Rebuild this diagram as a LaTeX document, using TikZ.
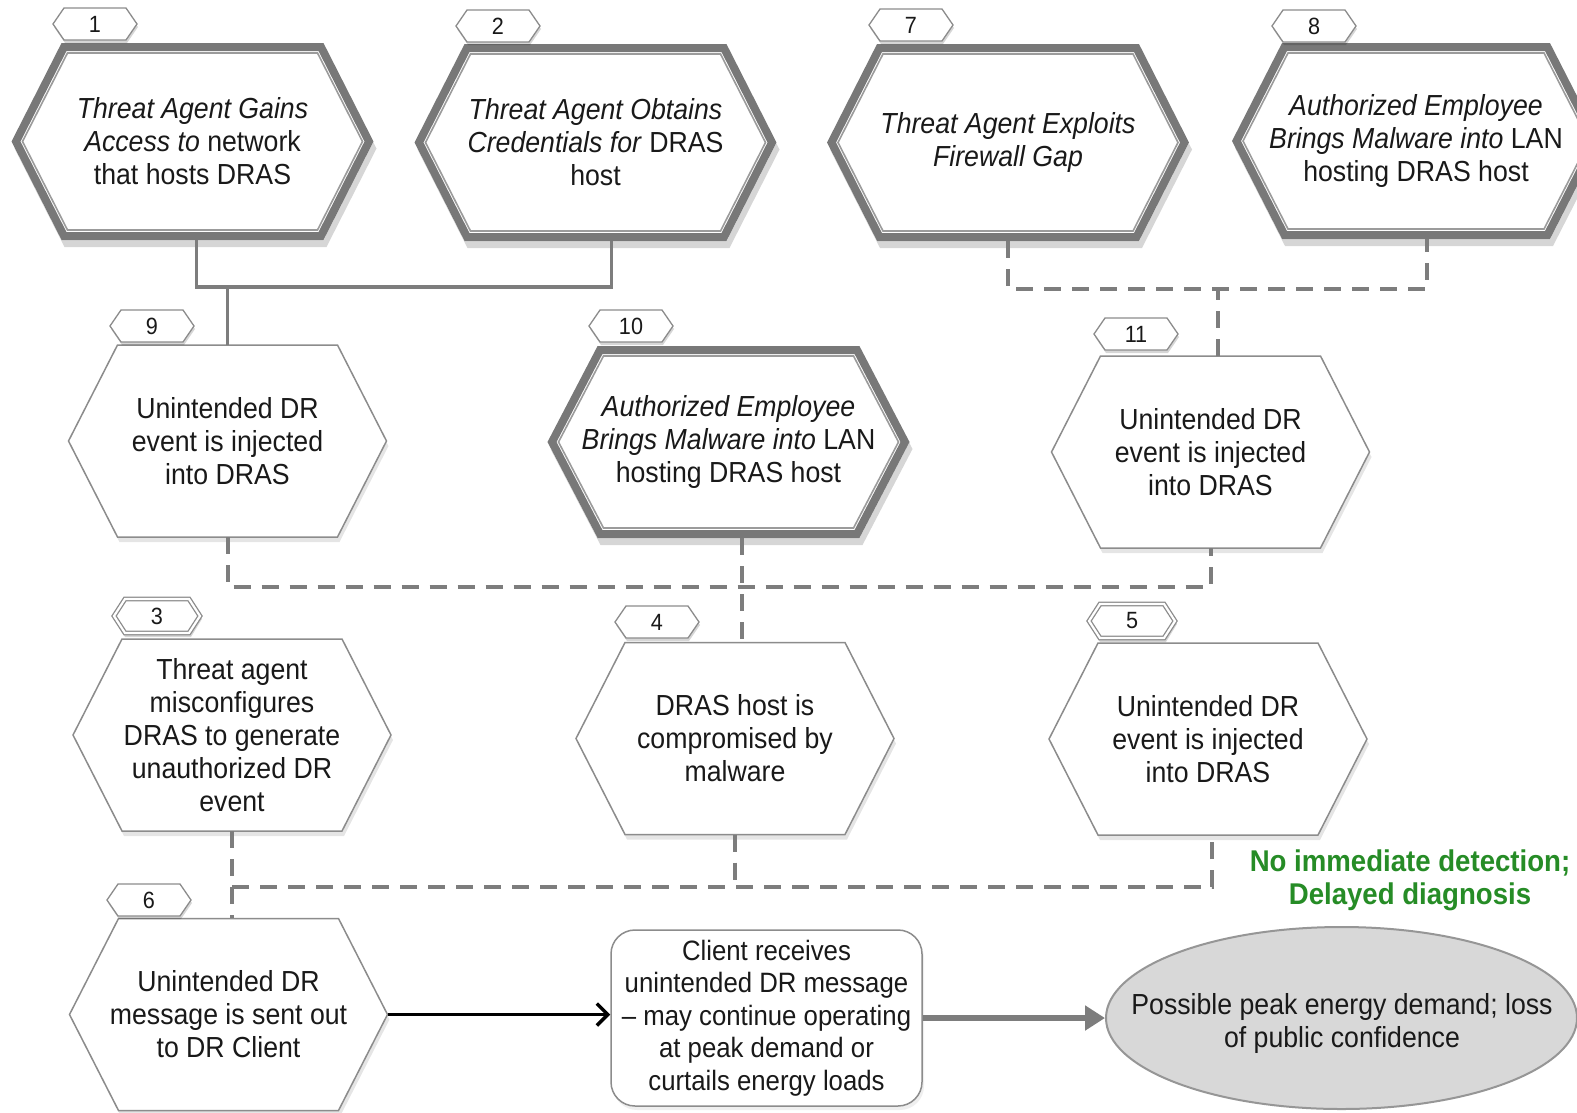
\documentclass[tikz,border=0pt]{standalone}
\usepackage{fontspec}
\setmainfont{Liberation Sans}[FakeStretch=0.92]
\usetikzlibrary{arrows.meta,shapes.geometric,shadows}

\definecolor{band}{RGB}{120,120,120}
\definecolor{bandin}{RGB}{155,155,155}
\definecolor{edge}{RGB}{140,140,140}
\definecolor{conn}{RGB}{125,125,125}
\definecolor{ink}{RGB}{25,25,25}
\definecolor{okgreen}{RGB}{38,140,38}
\definecolor{outfill}{RGB}{216,216,216}
\definecolor{outedge}{RGB}{150,150,150}

\tikzset{
  txt/.style={inner sep=0pt, align=center, text=ink, font=\fontsize{29}{33}\selectfont},
  tagtxt/.style={inner sep=0pt, text=ink, font=\fontsize{23.5}{25}\selectfont},
  solidconn/.style={conn, line width=3.5pt},
  dashconn/.style={conn, line width=4pt, dash pattern=on 17pt off 11pt},
  shade/.style={black, opacity=0.16},
}

% hexagon outline centred on the origin: half width, half height, corner inset
\newcommand\hexp[3]{({-(#1)},0) -- ({-(#1)+(#3)},{-(#2)}) -- ({(#1)-(#3)},{-(#2)}) -- ({#1},0) -- ({(#1)-(#3)},{#2}) -- ({-(#1)+(#3)},{#2}) -- cycle}

% initiating event: heavy banded hexagon
\newcommand\heavyhex[6]{%
  \begin{scope}[shift={(#2,#3)}]
    \fill[shade, shift={(3,7)}] \hexp{#4}{#5}{50};
    \fill[white] \hexp{#4}{#5}{50};
    \draw[band, line width=8pt] \hexp{#4-4.5}{#5-4}{48};
    \draw[bandin, line width=1.6pt] \hexp{#4-11}{#5-10}{45};
  \end{scope}
  \node[txt, minimum width={2*(#4)}, minimum height={2*(#5)}] (#1) at (#2,#3) {#6};
}

% intermediate event: plain hexagon
\newcommand\lighthex[4]{%
  \begin{scope}[shift={(#2,#3)}]
    \fill[shade, opacity=0.10, shift={(2,5)}] \hexp{159}{96}{49};
    \filldraw[fill=white, draw=edge, line width=1.5pt] \hexp{159}{96}{49};
  \end{scope}
  \node[txt, minimum width=318pt, minimum height=192pt] (#1) at (#2,#3) {#4};
}

% step numbers
\newcommand\numtag[4]{%
  \begin{scope}[shift={(#2,#3)}]
    \fill[shade, shift={(1,3)}] \hexp{42}{16}{11};
    \filldraw[fill=white, draw=edge, line width=1.3pt] \hexp{42}{16}{11};
  \end{scope}
  \node[tagtxt] (#1) at (#2,#3) {#4};
}
\newcommand\numtagd[4]{%
  \begin{scope}[shift={(#2,#3)}]
    \fill[shade, shift={(1,3)}] \hexp{44}{18}{11};
    \path[fill=white, draw=edge, line width=1.3pt, double=white, double distance=2.2pt] \hexp{43}{17}{11};
  \end{scope}
  \node[tagtxt] (#1) at (#2,#3) {#4};
}

\begin{document}
\begin{tikzpicture}[x=1pt, y=-1pt]
\clip (0,0) rectangle (1577,1112);
\fill[white] (0,0) rectangle (1577,1112);
\path[use as bounding box] (0,0) rectangle (1577,1112);

% ---- top row: initiating events
\heavyhex{n1}{192.5}{141.5}{181}{98.5}{\textit{Threat Agent Gains}\\\textit{Access to} network\\that hosts DRAS}
\heavyhex{n2}{595.5}{142.5}{181}{98.5}{\textit{Threat Agent Obtains}\\\textit{Credentials for} DRAS\\host}
\heavyhex{n7}{1008}{142.5}{181}{98.5}{\textit{Threat Agent Exploits}\\\textit{Firewall Gap}}
\heavyhex{n8}{1416}{141}{184}{98}{\textit{Authorized Employee}\\\textit{Brings Malware into} LAN\\hosting DRAS host}

% ---- second row
\lighthex{n9}{227.5}{441}{Unintended DR\\event is injected\\into DRAS}
\heavyhex{n10}{728.5}{442}{181}{96}{\textit{Authorized Employee}\\\textit{Brings Malware into} LAN\\hosting DRAS host}
\lighthex{n11}{1210.5}{452}{Unintended DR\\event is injected\\into DRAS}

% ---- third row
\lighthex{n3}{232}{735}{Threat agent\\misconfigures\\DRAS to generate\\unauthorized DR\\event}
\lighthex{n4}{735}{738.5}{DRAS host is\\compromised by\\malware}
\lighthex{n5}{1208}{739}{Unintended DR\\event is injected\\into DRAS}

% ---- bottom row
\lighthex{n6}{228.5}{1014.5}{Unintended DR\\message is sent out\\to DR Client}

\node[txt, font=\fontsize{28}{32.5}\selectfont, draw=edge, fill=white, line width=1.5pt, rounded corners=24pt,
      minimum width=311pt, minimum height=176pt,
      drop shadow={shadow xshift=2pt, shadow yshift=-4pt, opacity=0.12}]
  (client) at (766.5,1018) {Client receives\\unintended DR message\\-- may continue operating\\at peak demand or\\curtails energy loads};

\node[ellipse, draw=outedge, fill=outfill, line width=2pt, inner sep=0pt,
      minimum width=471pt, minimum height=182pt] (result) at (1341.5,1018) {};
\node[txt] (resulttext) at (1342,1023) {Possible peak energy demand; loss\\of public confidence};

\node[txt, text=okgreen, font=\fontsize{30}{33}\selectfont\bfseries] (note) at (1410,880)
  {No immediate detection;\\Delayed diagnosis};

% ---- step numbers
\numtag{t1}{95}{24}{1}
\numtag{t2}{498}{26}{2}
\numtag{t7}{911}{25}{7}
\numtag{t8}{1314}{26}{8}
\numtag{t9}{152}{326}{9}
\numtag{t10}{631}{326}{10}
\numtag{t11}{1136}{334}{11}
\numtagd{t3}{157}{616}{3}
\numtag{t4}{657}{622}{4}
\numtagd{t5}{1132}{621}{5}
\numtag{t6}{149}{900}{6}

% ---- connectors
\coordinate (j12) at (0,287);
\coordinate (j78) at (0,289);
\coordinate (jmid) at (0,587);
\coordinate (jlow) at (0,887);

\coordinate (a1) at ([xshift=4pt]n1.south);
\coordinate (a2) at ([xshift=16pt]n2.south);
\draw[solidconn] (a1) -- (a1 |- j12) -| (a2);
\draw[solidconn] (n9.north) -- (n9.north |- j12);

\coordinate (a8) at ([xshift=11pt]n8.south);
\coordinate (a11) at ([xshift=7pt]n11.north);
\draw[dashconn] (n7.south) -- (n7.south |- j78) -| (a8);
\draw[dashconn] (a11) -- (a11 |- j78);

\draw[dashconn] (n9.south) -- (n9.south |- jmid) -| (n11.south);
\coordinate (a10) at ([xshift=13pt]n10.south);
\draw[dashconn] (a10) -- (a10 |- n4.north);

\draw[dashconn] (n3.south) -- (n3.south |- n6.north);
\coordinate (a5) at ([xshift=4pt]n5.south);
\draw[dashconn] (n3.south |- jlow) -| (a5);
\draw[dashconn] (n4.south) -- (n4.south |- jlow);

\draw[black, line width=3.5pt, -{Straight Barb[length=11pt, width=22pt]}]
  (n6.east) -- (n6.east -| client.west);
\draw[conn, line width=6pt, -{Triangle[length=20pt, width=24pt]}]
  (client.east) -- (result.west);
\end{tikzpicture}
\end{document}
